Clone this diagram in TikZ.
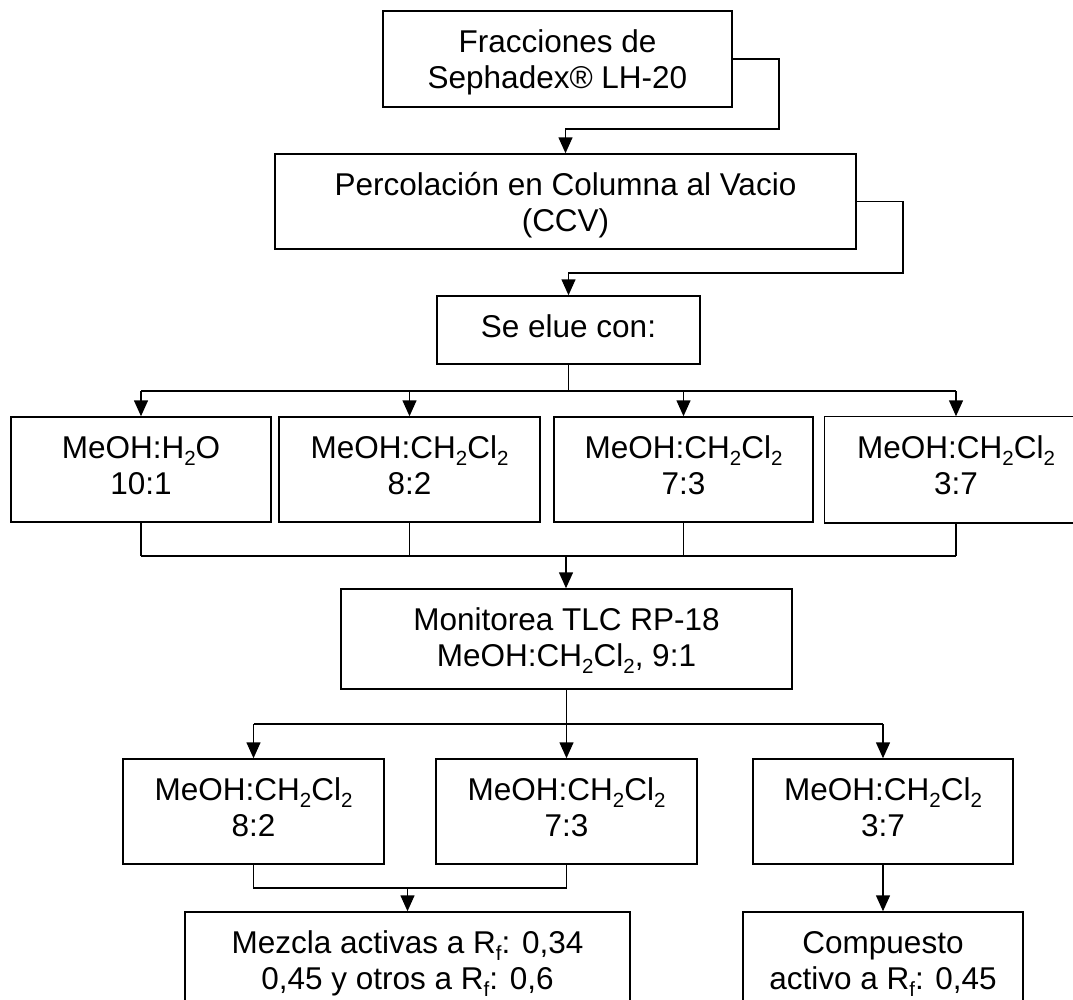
\documentclass[tikz,border=0pt]{standalone}
\usepackage{fontspec}
\setmainfont{Liberation Sans}
\usetikzlibrary{arrows.meta}
\newcommand\chemsub[1]{\raisebox{-0.22em}{\fontsize{20.5}{20}\selectfont #1}}
% first baseline sits 41pt below the top border; the bottom strut fills the rest
\newcommand\topstrut{\rule{0pt}{41pt}}
\newcommand\botstrut[1]{\rule[-#1pt]{0pt}{#1pt}}
\begin{document}
\begin{tikzpicture}[x=1pt,y=-1pt,
  box/.style={draw,line width=1.5pt,inner sep=0pt,align=center,
    font=\fontsize{31.5}{36.7}\selectfont},
  wire/.style={line width=1.5pt},
  arr/.style={line width=1.5pt,-{Triangle[length=16pt,width=14pt]}}]
\useasboundingbox (0,0) rectangle (1073,999);
\clip (0,0) rectangle (1073,999);
\fill[white] (0,0) rectangle (1073,999);

% process boxes
\node[box,minimum width=349pt,minimum height=96pt] (F) at (557.5,59)
  {\topstrut Fracciones de\\Sephadex® LH-20\botstrut{18}};
\node[box,minimum width=581pt,minimum height=95pt] (P) at (565.5,201.5)
  {\topstrut Percolación en Columna al Vacio\\(CCV)\botstrut{17}};
\node[box,minimum width=263pt,minimum height=68pt] (S) at (568.5,330)
  {\topstrut Se elue con:\botstrut{26.5}};

\node[box,minimum width=260pt,minimum height=105pt] (A) at (141,469.5)
  {\topstrut MeOH:H\chemsub{2}O\\10:1\botstrut{27}};
\node[box,minimum width=261pt,minimum height=105pt] (B) at (409.5,469.5)
  {\topstrut MeOH:CH\chemsub{2}Cl\chemsub{2}\\8:2\botstrut{27}};
\node[box,minimum width=259pt,minimum height=105pt] (C) at (683.5,469.5)
  {\topstrut MeOH:CH\chemsub{2}Cl\chemsub{2}\\7:3\botstrut{27}};
% the last eluent box runs past the right border: left, top and bottom sides only
\node[box,draw=none,minimum width=262pt,minimum height=105pt] (D) at (956,469.5)
  {\topstrut MeOH:CH\chemsub{2}Cl\chemsub{2}\\3:7\botstrut{27}};
\draw[wire] ([xshift=40pt]D.north east) -- (D.north west) -- (D.south west) -- ([xshift=40pt]D.south east);

\node[box,minimum width=451pt,minimum height=100pt] (M) at (566.5,639)
  {\topstrut Monitorea TLC RP-18\\MeOH:CH\chemsub{2}Cl\chemsub{2}, 9:1\botstrut{22}};

\node[box,minimum width=261pt,minimum height=105pt] (L) at (253.5,811.5)
  {\topstrut MeOH:CH\chemsub{2}Cl\chemsub{2}\\8:2\botstrut{27}};
\node[box,minimum width=261pt,minimum height=105pt] (Q) at (566.5,811.5)
  {\topstrut MeOH:CH\chemsub{2}Cl\chemsub{2}\\7:3\botstrut{27}};
\node[box,minimum width=260pt,minimum height=105pt] (R) at (883,811.5)
  {\topstrut MeOH:CH\chemsub{2}Cl\chemsub{2}\\3:7\botstrut{27}};

\node[box,minimum width=445pt,minimum height=103pt] (Mz) at (407.5,963.5)
  {\topstrut Mezcla activas a R\chemsub{f}: 0,34\\0,45 y otros a R\chemsub{f}: 0,6\botstrut{25}};
\node[box,minimum width=280pt,minimum height=103pt] (Co) at (883,963.5)
  {\topstrut Compuesto\\activo a R\chemsub{f}: 0,45\botstrut{25}};

% routing points
\coordinate (k1) at (779,129);
\coordinate (k2) at (903,273);
\coordinate (k3) at (568.5,391);
\coordinate (k4) at (566,556);
\coordinate (k5) at (566.5,724);
\coordinate (k6) at (407.5,888);

% top chain
\draw[arr] (F.east) -| (k1) -- (k1 -| P.north) -- (P.north);
\draw[arr] (P.east) -| (k2) -- (k2 -| S.north) -- (S.north);

% split to the four eluents
\draw[wire] (S.south) -- (k3);
\draw[wire] (k3 -| A.north) -- (k3 -| D.north);
\foreach \n in {A,B,C,D} \draw[arr] (k3 -| \n.north) -- (\n.north);

% merge into monitoring
\foreach \n in {A,B,C,D} \draw[wire] (\n.south) -- (k4 -| \n.south);
\draw[wire] (k4 -| A.south) -- (k4 -| D.south);
\draw[arr] (k4) -- (k4 |- M.north);

% split to the three groups
\draw[wire] (M.south) -- (k5);
\draw[wire] (k5 -| L.north) -- (k5 -| R.north);
\foreach \n in {L,Q,R} \draw[arr] (k5 -| \n.north) -- (\n.north);

% results
\draw[wire] (L.south) |- (k6) -| (Q.south);
\draw[arr] (k6) -- (Mz.north);
\draw[arr] (R.south) -- (Co.north);
\end{tikzpicture}
\end{document}
